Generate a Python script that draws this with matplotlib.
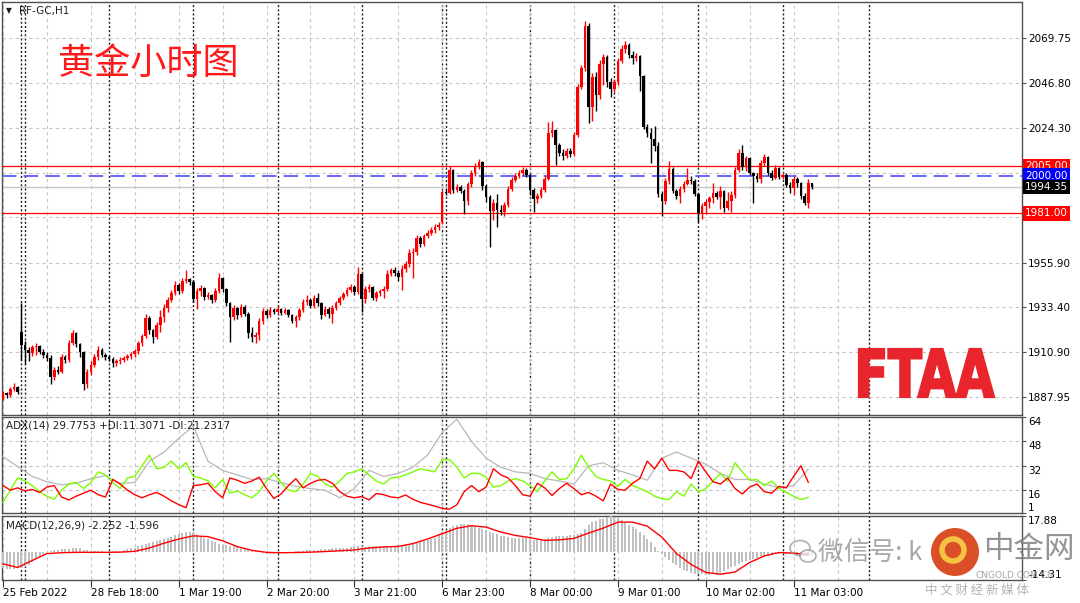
import numpy as np
import matplotlib
matplotlib.use("Agg")
import matplotlib.pyplot as plt
from matplotlib.textpath import TextPath
from matplotlib.patches import PathPatch, Ellipse
from matplotlib.font_manager import FontProperties
from matplotlib.transforms import Affine2D, blended_transform_factory

plt.rcParams['font.family'] = ['DejaVu Sans', 'Noto Sans CJK SC']
CJK = ['Noto Sans CJK SC', 'DejaVu Sans']

# ---- hourly candles, RF-GC H1 (open = previous close unless listed in gap_opens)
closes = [
    1889.9, 1888.8, 1892.0, 1893.2, 1890.5, 1914.3, 1911.5, 1910.0, 1913.3, 1913.8,
    1910.7, 1909.2, 1907.8, 1897.8, 1901.6, 1900.5, 1908.2, 1906.7, 1915.3, 1920.5,
    1914.8, 1910.7, 1894.5, 1900.6, 1904.2, 1908.2, 1911.7, 1909.2, 1908.2, 1907.2,
    1905.2, 1906.2, 1906.9, 1907.7, 1908.7, 1909.5, 1911.0, 1915.3, 1918.8, 1927.9,
    1921.9, 1918.3, 1924.4, 1928.5, 1933.0, 1937.1, 1940.6, 1944.7, 1941.6, 1946.7,
    1947.5, 1946.0, 1937.5, 1941.5, 1943.0, 1938.5, 1939.5, 1937.0, 1941.5, 1948.0,
    1942.5, 1935.5, 1928.5, 1933.0, 1929.5, 1933.5, 1930.0, 1920.5, 1918.3, 1919.5,
    1926.5, 1931.5, 1929.5, 1932.0, 1931.0, 1932.5, 1930.5, 1931.8, 1929.5, 1926.5,
    1928.5, 1932.0, 1936.0, 1937.2, 1934.0, 1938.0, 1935.5, 1929.5, 1932.5, 1929.8,
    1933.0, 1935.5, 1938.0, 1940.0, 1942.0, 1943.5, 1941.0, 1950.0, 1937.5, 1942.5,
    1943.5, 1938.0, 1940.5, 1941.5, 1942.5, 1950.0, 1952.0, 1950.5, 1948.5, 1953.0,
    1955.5, 1961.0, 1961.5, 1968.5, 1965.5, 1969.5, 1971.0, 1972.5, 1974.0, 1975.0,
    1992.0, 1991.2, 2003.0, 1993.0, 1994.5, 1992.5, 1987.0, 1996.0, 2001.5, 2004.5,
    2007.0, 1995.0, 1989.0, 1982.0, 1986.0, 1982.5, 1981.5, 1985.0, 1993.5, 1998.0,
    2000.0, 2001.5, 2003.0, 2000.5, 1993.0, 1988.0, 1989.5, 1993.0, 1998.5, 2021.5,
    2023.0, 2015.5, 2011.5, 2010.0, 2012.5, 2011.0, 2020.5, 2045.0, 2054.5, 2076.0,
    2035.0, 2050.0, 2041.0, 2056.5, 2060.0, 2047.5, 2044.0, 2047.5, 2058.0, 2064.0,
    2066.0, 2061.0, 2059.5, 2060.5, 2050.5, 2024.5, 2021.5, 2018.5, 2015.0, 1990.5,
    1987.0, 1997.5, 2003.5, 1992.5, 1989.5, 1993.5, 1996.0, 1998.0, 1997.5, 1990.5,
    1981.0, 1984.5, 1986.5, 1988.5, 1991.5, 1989.0, 1992.5, 1983.5, 1987.0, 1990.0,
    2003.0, 2011.5, 2004.5, 2009.0, 2001.5, 2000.0, 1998.5, 2006.5, 2009.5, 2001.5,
    1999.0, 2004.0, 1999.5, 2000.5, 1995.5, 1994.0, 1998.5, 1996.5, 1989.5, 1986.0,
    1996.5, 1994.35,
]
highs = [
    1891.0, 1890.5, 1893.0, 1894.8, 1893.5, 1935.5, 1916.5, 1913.0, 1914.5, 1915.2,
    1914.5, 1912.0, 1910.5, 1909.0, 1903.0, 1903.5, 1909.5, 1909.0, 1917.0, 1922.0,
    1921.0, 1915.5, 1911.0, 1902.0, 1906.0, 1909.5, 1914.0, 1912.5, 1910.0, 1909.0,
    1908.0, 1907.0, 1908.0, 1908.5, 1909.5, 1910.5, 1912.0, 1916.5, 1920.0, 1930.0,
    1929.0, 1922.5, 1926.0, 1932.0, 1935.0, 1938.5, 1942.0, 1946.5, 1945.5, 1948.2,
    1952.0, 1948.0, 1947.0, 1943.0, 1944.5, 1943.5, 1941.0, 1940.0, 1943.0, 1950.5,
    1948.5, 1943.0, 1936.0, 1934.5, 1933.5, 1935.0, 1934.5, 1931.0, 1923.5, 1921.0,
    1928.0, 1933.0, 1932.5, 1933.5, 1933.0, 1934.0, 1933.0, 1933.0, 1932.5, 1930.0,
    1929.5, 1933.0, 1937.5, 1939.5, 1938.0, 1939.5, 1940.5, 1936.0, 1934.0, 1933.5,
    1934.5, 1936.5, 1939.0, 1941.0, 1943.5, 1945.0, 1944.5, 1953.8, 1950.5, 1944.0,
    1945.0, 1944.0, 1941.5, 1942.5, 1944.0, 1952.0, 1953.5, 1954.0, 1952.0, 1955.0,
    1957.0, 1963.0, 1963.5, 1970.0, 1969.5, 1970.5, 1972.5, 1974.0, 1975.5, 1976.5,
    1993.0, 1993.5, 2005.0, 2003.5, 1996.0, 1995.5, 1993.5, 1997.0, 2003.0, 2006.5,
    2008.5, 2007.5, 1996.0, 1990.0, 1988.0, 1990.5, 1985.0, 1986.5, 1995.0, 1999.5,
    2001.5, 2003.0, 2004.5, 2004.0, 2001.5, 1994.0, 1991.0, 1994.5, 2000.0, 2027.2,
    2027.5, 2023.5, 2016.5, 2013.5, 2014.0, 2014.0, 2022.0, 2046.5, 2056.0, 2078.3,
    2077.5, 2052.0, 2052.5, 2058.5, 2061.5, 2061.0, 2049.5, 2049.0, 2059.5, 2066.0,
    2068.4, 2067.0, 2063.0, 2062.0, 2061.0, 2051.0, 2026.0, 2024.0, 2025.0, 2017.0,
    1992.5, 1999.0, 2007.5, 2004.5, 1993.5, 1995.0, 1997.5, 2004.0, 2000.0, 1998.5,
    1991.5, 1986.0, 1988.0, 1989.5, 1996.5, 1992.5, 1995.0, 1993.0, 1992.0, 1992.5,
    2004.5, 2013.5, 2015.6, 2010.0, 2009.5, 2002.0, 2001.5, 2008.0, 2011.0, 2010.0,
    2003.0, 2005.5, 2004.5, 2001.5, 2001.5, 1997.0, 2000.0, 1999.5, 1997.0, 1991.0,
    1998.5, 1996.5,
]
lows = [
    1886.5, 1887.5, 1888.0, 1891.0, 1889.5, 1906.7, 1904.5, 1906.0, 1908.5, 1909.0,
    1909.5, 1907.5, 1906.0, 1894.5, 1896.5, 1899.5, 1900.0, 1905.0, 1905.5, 1914.5,
    1913.0, 1908.0, 1891.5, 1892.5, 1899.0, 1903.0, 1906.5, 1908.0, 1906.5, 1906.0,
    1903.0, 1903.5, 1904.5, 1905.5, 1906.5, 1907.0, 1908.0, 1909.5, 1914.0, 1918.0,
    1920.0, 1915.5, 1917.5, 1921.0, 1926.0, 1931.0, 1936.0, 1939.5, 1940.0, 1940.5,
    1945.5, 1944.5, 1936.0, 1932.5, 1939.0, 1937.0, 1937.5, 1935.5, 1936.0, 1940.5,
    1941.0, 1934.0, 1915.8, 1927.0, 1927.5, 1928.5, 1929.0, 1918.0, 1916.0, 1915.5,
    1917.0, 1925.0, 1928.0, 1928.5, 1930.0, 1930.5, 1929.5, 1930.0, 1928.5, 1925.5,
    1923.5, 1927.0, 1931.0, 1934.5, 1933.0, 1933.0, 1934.0, 1927.5, 1929.0, 1928.0,
    1925.5, 1932.0, 1934.5, 1937.0, 1939.0, 1941.0, 1939.5, 1940.0, 1931.0, 1935.5,
    1941.0, 1937.0, 1936.5, 1939.0, 1938.0, 1941.5, 1949.0, 1949.0, 1946.5, 1942.0,
    1951.0, 1954.0, 1948.0, 1960.0, 1964.0, 1964.5, 1968.5, 1970.0, 1971.0, 1972.5,
    1975.5, 1990.0, 1990.5, 1991.5, 1992.0, 1991.5, 1980.8, 1985.0, 1994.5, 2000.0,
    2003.5, 1993.0, 1986.5, 1964.0, 1977.5, 1974.0, 1980.0, 1979.5, 1984.0, 1992.5,
    1997.0, 1999.0, 2000.5, 1999.5, 1990.0, 1981.5, 1986.0, 1988.5, 1992.0, 1998.0,
    2019.5, 2005.5, 2010.0, 2008.0, 2009.0, 2009.5, 2010.0, 2019.5, 2044.0, 2053.0,
    2026.5, 2027.5, 2033.0, 2039.0, 2046.0, 2045.0, 2040.0, 2042.5, 2046.0, 2057.0,
    2062.0, 2059.5, 2056.5, 2058.0, 2043.0, 2023.5, 2019.5, 2006.5, 2012.5, 1989.0,
    1979.5, 1985.5, 1996.0, 1991.0, 1988.0, 1986.0, 1992.0, 1995.5, 1996.0, 1989.5,
    1976.5, 1978.0, 1980.5, 1983.5, 1986.0, 1988.0, 1983.0, 1981.5, 1982.5, 1981.5,
    1988.5, 2002.0, 2003.0, 2002.5, 2000.5, 1986.2, 1997.0, 1996.5, 2005.0, 2000.5,
    1998.0, 1998.5, 1998.5, 1998.5, 1994.5, 1991.5, 1990.0, 1994.5, 1988.0, 1985.0,
    1983.5, 1993.5,
]
gap_opens = {0: 1887.5, 5: 1921.0, 120: 1976.5}

price_ticks = [2069.75, 2046.80, 2024.30, 2001.35, 1978.85, 1955.90, 1933.40, 1910.90, 1887.95]
hidden_ticks = [2001.35]          # fully covered by the 2000.00 level box
levels = [(2005.00, '#ff0000'), (2000.00, '#0000ff'), (1994.35, '#000000'), (1981.00, '#ff0000')]

# day / week separators (bar index)
sep_bars = [5, 6, 29, 52, 75, 98, 120, 121, 144, 167, 190, 213, 236.5]
label_bars = [0, 24, 48, 72, 96, 120, 144, 168, 192, 216]
time_labels = ['25 Feb 2022', '28 Feb 18:00', '1 Mar 19:00', '2 Mar 20:00', '3 Mar 21:00',
               '6 Mar 23:00', '8 Mar 00:00', '9 Mar 01:00', '10 Mar 02:00', '11 Mar 03:00']

# ---- ADX(14): main line every 4 bars, +DI / -DI every 2 bars
adx_step = 4
adx = [38, 31.5, 25, 21.5, 19.5, 20.5, 23.5, 25.5, 20.5, 21, 35, 41, 50, 58, 35, 29, 26, 23,
       23.5, 21, 18.5, 17, 16, 11, 17, 29, 25, 27, 31, 39, 54, 62.5, 48, 37, 31, 28, 27, 23.6,
       22, 20, 32, 34, 29, 26, 22.5, 37, 41, 37, 33, 27, 23, 23, 20, 17.5, 19, 29.8]
di_step = 2
plus_di = [8, 16, 24, 22, 19, 15, 12, 10, 16, 20, 21, 17, 21, 28, 26, 21, 17, 24, 25, 32,
           39, 30, 31, 35, 30, 34, 25, 24, 22, 17.5, 23, 14, 15.5, 13, 11, 15, 22, 27, 21, 16,
           15, 20, 27, 25, 20, 18, 22, 27, 28, 30, 26, 22, 20, 24, 24.5, 26, 28, 30, 29, 28,
           36, 36, 31, 24, 27, 27, 24.5, 18, 19, 22, 23.5, 22, 19, 15, 22, 28, 23, 23.5, 30, 39,
           31, 25, 23, 22, 18.5, 23, 19, 17, 15, 12, 10.5, 9.8, 15, 12, 20, 15, 17, 22, 27, 22,
           34, 28, 22.5, 23, 19, 22, 17, 14.5, 12, 9.8, 11.3]
minus_di = [19, 16, 17.5, 15.5, 16.5, 14.5, 18, 19, 11.5, 9.6, 12, 14, 16, 13, 11.5, 23, 20,
            16, 13, 11, 13, 14.5, 12, 9, 6.5, 4.5, 19, 19.5, 20.5, 15, 11, 24, 22.5, 20.5, 22,
            24.5, 17, 10.5, 13.5, 19, 23.5, 17.5, 20.5, 22.5, 23, 20.5, 15, 12, 11, 11.8, 9.6,
            13.8, 13, 11.5, 11, 12.8, 10, 8, 6.8, 5.5, 4, 3.5, 6.4, 15, 19, 15, 18, 30, 26, 24,
            19, 13, 12, 20.5, 17.5, 12.5, 17, 20.5, 17, 13, 14.5, 12, 9, 20, 16.5, 16, 20.5,
            23.6, 35, 30, 37, 29, 29, 28, 23.6, 35, 28, 21.5, 20, 24, 17, 13.5, 18, 20, 15, 14,
            18.5, 17.5, 25, 32, 21.2]

# ---- MACD(12,26,9): main as histogram (every bar), signal sampled every 4 bars
macd_main = [
    -8.5, -8.6, -8.7, -8.6, -8.4, -8.2, -7.6, -7.0, -5.5, -3.8, -2.5, -1.2, -0.3, 0.4, 0.8, 1.0,
    1.1, 1.2, 1.4, 1.8, 2.0, 1.6, 1.0, 0.6, 0.3, 0.2, 0.3, 0.2, 0.0, -0.2, 0.1, 0.3, 0.5, 0.8,
    1.2, 1.6, 2.0, 2.7, 3.2, 3.8, 4.3, 4.7, 5.1, 5.6, 6.2, 6.8, 7.4, 8.2, 8.8, 9.5, 9.7, 9.6,
    9.2, 8.6, 7.8, 7.0, 6.2, 5.3, 4.7, 4.0, 3.5, 3.1, 2.8, 2.6, 2.1, 1.6, 1.2, 0.8, 0.4, 0.1,
    -0.4, -0.9, -1.3, -1.4, -1.2, -0.8, -0.5, -0.3, -0.2, 0.0, 0.2, 0.4, 0.5, 0.6, 0.8, 0.9,
    1.0, 1.2, 1.3, 1.4, 1.6, 1.7, 1.8, 1.9, 2.0, 2.1, 2.4, 2.6, 2.6, 2.5, 2.5, 2.6, 2.7, 2.7,
    2.8, 2.8, 2.9, 3.0, 3.1, 3.3, 3.4, 3.6, 3.8, 4.2, 4.7, 5.2, 5.8, 6.4, 7.0, 8.2, 9.6, 10.9,
    12.0, 12.8, 13.4, 13.8, 13.9, 13.8, 13.4, 12.8, 12.0, 11.5, 10.7, 10.0, 9.3, 8.6, 8.0, 7.6,
    7.2, 6.9, 6.8, 6.8, 6.7, 6.6, 6.3, 6.0, 5.8, 5.9, 6.2, 6.8, 7.3, 7.6, 7.7, 7.8, 7.9, 8.1,
    8.4, 8.6, 9.5, 11.2, 13.2, 14.8, 15.6, 16.2, 16.6, 17.3, 17.88, 17.5, 16.8, 15.9, 14.4,
    13.4, 12.5, 11.2, 9.8, 8.4, 6.5, 4.6, 2.5, 0.4, -1.2, -2.8, -4.3, -5.8, -7.0, -8.1, -9.2,
    -10.0, -10.6, -11.1, -11.4, -11.5, -11.6, -11.6, -11.4, -11.2, -10.6, -9.8, -9.0, -8.0,
    -7.1, -6.2, -5.4, -4.8, -4.2, -3.7, -3.2, -2.6, -2.2, -1.8, -1.5, -1.2, -1.0, -0.9, -1.0,
    -1.1, -1.3, -1.5, -1.8, -2.0, -2.1, -2.252,
]
signal_step = 4
macd_signal = [-6.2, -8, -4.5, -1, -0.6, -0.4, -0.4, -0.4, -0.3, 0.1, 1.8, 4.2, 6.3, 7.9, 7.5,
               5.4, 2.5, 0.6, -0.4, -0.6, -0.5, -0.3, 0, 0.4, 0.8, 1.8, 2.3, 2.6, 4, 6.3, 9,
               11.7, 13, 12.3, 9.8, 8.1, 7, 5.6, 5.9, 6.6, 9.3, 11.8, 14.8, 14.8, 12.8, 7.3, -1,
               -6.5, -10.5, -11.4, -10.3, -5.5, -2.2, -0.5, -0.8, -1.596]

# ---------------------------------------------------------------- layout
W, H = 1080, 603
fig = plt.figure(figsize=(W / 100, H / 100), dpi=100)
fig.patch.set_facecolor('white')


def rect(l, t, r, b):
    return [l / W, 1 - b / H, (r - l) / W, (b - t) / H]


ax = fig.add_axes(rect(2, 2, 1022, 415))
ax_adx = fig.add_axes(rect(2, 417, 1022, 513), sharex=ax)
ax_macd = fig.add_axes(rect(2, 516, 1022, 580), sharex=ax)

grid_kw = dict(color='#c6c6c6', lw=0.8, ls=(0, (3, 3)))
sep_kw = dict(color='#202020', lw=1.0, ls=(0, (1.5, 1.5)), zorder=1.5)
FS = 7.5

n = len(closes)
x = np.arange(n)
c = np.array(closes)
o = np.array([gap_opens.get(i, closes[i - 1] if i else closes[0]) for i in range(n)])
h = np.maximum(np.array(highs), np.maximum(o, c))
l = np.minimum(np.array(lows), np.minimum(o, c))
col = np.where(c >= o, '#ff0000', '#000000')

for a in (ax, ax_adx, ax_macd):
    a.set_xlim(-0.27, 278.4)
    for s in a.spines.values():
        s.set_color('#505050')
        s.set_linewidth(1)
    a.yaxis.tick_right()
    a.set_xticks(label_bars)
    a.set_xticks([b + 12 for b in label_bars], minor=True)
    a.grid(axis='x', which='both', **grid_kw)
    a.tick_params(axis='x', which='both', length=0, labelbottom=False)
    a.tick_params(axis='y', length=3, width=0.8, color='#505050', pad=1.5,
                  labelsize=FS, labelcolor='#000000')
    for b in sep_bars:
        a.axvline(b, **sep_kw)

# main price panel
ax.set_ylim(1878.8, 2088.0)
ax.set_yticks(price_ticks)
ax.set_yticklabels(['' if p in hidden_ticks else f'{p:.2f}' for p in price_ticks])
ax.grid(axis='y', **grid_kw)
ax.vlines(x, l, h, colors=col, lw=1, zorder=3)
ax.bar(x, np.maximum(np.abs(c - o), 0.4), bottom=np.minimum(c, o), width=0.7,
       color=col, lw=0, zorder=4)

ax.axhline(2005.00, color='#ff0000', lw=0.9, zorder=2.6)
ax.axhline(1981.00, color='#ff0000', lw=0.9, zorder=2.6)
ax.axhline(2000.00, color='#5b5bff', lw=1.3, ls=(0, (8, 4)), zorder=2.6)
ax.axhline(1994.35, color='#c8c8c8', lw=1.0, zorder=2.2)

tr = blended_transform_factory(ax.transAxes, ax.transData)
for val, fc in levels:
    ax.text(1.0 + 3 / 1020, val, f'{val:.2f}', transform=tr, ha='left', va='center',
            fontsize=FS, color='white', clip_on=False, zorder=20,
            bbox=dict(boxstyle='square,pad=0.22', fc=fc, ec='none'))

# ADX panel
ax_adx.set_ylim(1, 64)
ax_adx.set_yticks([64, 48, 32, 16, 1])
ax_adx.set_yticklabels(['64', '48', '32', '16', '1'])
for t in ax_adx.get_yticklabels():
    t.set_va('bottom' if t.get_text() == '1' else 'top')
for gv in (48, 32, 16):
    ax_adx.axhline(gv, **grid_kw)
ax_adx.plot(np.arange(len(adx)) * adx_step, adx, color='#b8b8b8', lw=0.9, zorder=3)
ax_adx.plot(np.arange(len(plus_di)) * di_step, plus_di, color='#7cfc00', lw=1.0, zorder=3)
ax_adx.plot(np.arange(len(minus_di)) * di_step, minus_di, color='#ff0000', lw=1.0, zorder=3)

# MACD panel
ax_macd.set_ylim(-14.31, 17.88)
ax_macd.set_yticks([17.88, -14.31])
ax_macd.set_yticklabels(['17.88', '-14.31'])
ax_macd.get_yticklabels()[0].set_va('top')
ax_macd.get_yticklabels()[1].set_va('bottom')
ax_macd.bar(np.arange(len(macd_main)), macd_main, width=0.55, color='#c0c0c0', lw=0, zorder=3)
ax_macd.plot(np.arange(len(macd_signal)) * signal_step, macd_signal, color='#ff0000',
             lw=1.0, zorder=4)

ax_macd.set_xticks(label_bars)
ax_macd.set_xticklabels(time_labels)
ax_macd.tick_params(axis='x', which='major', length=5, width=0.8, color='#303030',
                    labelbottom=True, labelsize=FS, pad=1)
for t in ax_macd.get_xticklabels():
    t.set_ha('left')


# ---------------------------------------------------------------- texts
def fx(px):
    return px / W


def fy(py):
    return 1 - py / H


fig.text(fx(6), fy(11), '\u25bc', fontsize=5.5, va='center', ha='left', color='#202020')
fig.text(fx(19), fy(11), 'RF-GC,H1', fontsize=FS, va='center', ha='left', color='#202020')
fig.text(fx(6), fy(426), 'ADX(14) 29.7753 +DI:11.3071 -DI:21.2317', fontsize=FS,
         va='center', ha='left', color='#202020')
fig.text(fx(6), fy(526), 'MACD(12,26,9) -2.252 -1.596', fontsize=FS,
         va='center', ha='left', color='#202020')

fig.text(fx(58), fy(64), '黄金小时图', family=CJK, fontsize=26, color='#ff1a1a',
         va='center', ha='left')

# FTAA logo
tp = TextPath((0, 0), 'FTAA', size=50, prop=FontProperties(family='DejaVu Sans', weight='bold'))
bb = tp.get_extents()
logo_tr = (Affine2D().translate(-bb.x0, -bb.y0)
           .scale(135 / bb.width / W, 48 / bb.height / H)
           .translate(fx(859), fy(397)) + fig.transFigure)
fig.add_artist(PathPatch(tp, transform=logo_tr, fc='#e8252d', ec='#e8252d', lw=1.6,
                         joinstyle='miter', zorder=30))

# watermark
wm = '#8c8c8c'
fig.add_artist(Ellipse((fx(800), fy(548)), 20 / W, 15 / H, transform=fig.transFigure,
                       fill=False, ec=wm, lw=1.2, alpha=0.7, zorder=40))
fig.add_artist(Ellipse((fx(808), fy(556)), 16 / W, 12 / H, transform=fig.transFigure,
                       fc='white', ec=wm, lw=1.2, alpha=0.7, zorder=40))
fig.text(fx(818), fy(553), '微信号: k', family=CJK, fontsize=18.5, color=wm, alpha=0.75,
         va='center', ha='left', zorder=40)
fig.add_artist(Ellipse((fx(955), fy(552)), 48 / W, 48 / H, transform=fig.transFigure,
                       fc='#d9451c', ec='none', alpha=0.95, zorder=41))
fig.add_artist(Ellipse((fx(953), fy(550)), 22 / W, 22 / H, transform=fig.transFigure,
                       fill=False, ec='#f5c242', lw=4, zorder=42))
fig.text(fx(983), fy(549), '中金网', family=CJK, fontsize=22, color='#808080', alpha=0.85,
         va='center', ha='left', zorder=40)
fig.text(fx(976), fy(575), 'CNGOLD.COM.CN', fontsize=6.5, color=wm, alpha=0.8,
         va='center', ha='left', zorder=40)
fig.text(fx(925), fy(590), '中 文 财 经 新 媒 体', family=CJK, fontsize=9, color='#a0a0a0',
         alpha=0.8, va='center', ha='left', zorder=40)

fig.savefig('out.png', dpi=100)
